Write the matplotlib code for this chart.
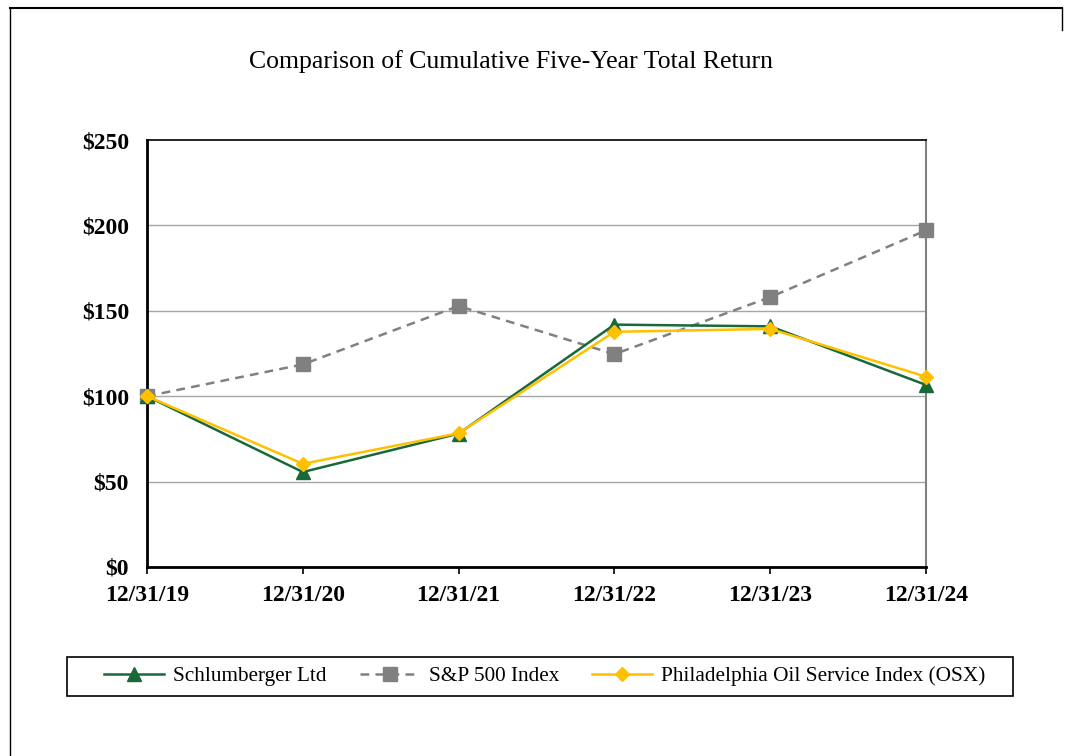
import matplotlib
matplotlib.use("Agg")
import matplotlib.pyplot as plt
from matplotlib.lines import Line2D
from matplotlib.patches import Rectangle

# data
dates = ['12/31/19', '12/31/20', '12/31/21', '12/31/22', '12/31/23', '12/31/24']
slb = [100, 55.6, 78.1, 141.9, 140.9, 106.6]
spx = [100, 118.6, 152.8, 124.6, 158.0, 197.1]
osx = [100, 60.4, 78.3, 137.7, 139.4, 111.4]
y_ticks = [0, 50, 100, 150, 200, 250]

plt.rcParams['font.family'] = ['Liberation Serif', 'DejaVu Serif']

W, H = 1074, 756
fig = plt.figure(figsize=(W / 100, H / 100), dpi=100)
ax = fig.add_axes([147/W, 1-567/H, (926-147)/W, (567-140)/H])

x = range(len(dates))
ax.plot(x, slb, color='#17693a', lw=1.8, marker='^', ms=10, label='Schlumberger Ltd', zorder=4, clip_on=False)
ax.plot(x, spx, color='#808080', lw=1.8, ls=(0, (3.5, 2.5)), marker='s', ms=10, label='S&P 500 Index', zorder=3, clip_on=False)
ax.plot(x, osx, color='#ffc000', lw=1.8, marker='D', ms=7.5, label='Philadelphia Oil Service Index (OSX)', zorder=5, clip_on=False)

ax.set_xlim(0, len(dates) - 1)
ax.set_ylim(0, 250)
ax.set_yticks(y_ticks)
ax.set_yticklabels(['$%d' % v for v in y_ticks], fontsize=17, fontweight='bold')
ax.set_xticks(list(x))
ax.set_xticklabels(dates, fontsize=17, fontweight='bold')
ax.tick_params(axis='y', length=0, pad=13)
ax.tick_params(axis='x', length=5, width=1.2, direction='out', pad=8)
for v in y_ticks[1:-1]:
    ax.axhline(v, color='#a6a6a6', lw=1, zorder=1)

ax.spines['left'].set_linewidth(2)
ax.spines['bottom'].set_linewidth(2)
ax.spines['top'].set_linewidth(1.2)
ax.spines['right'].set_color('#808080')
ax.spines['right'].set_linewidth(1.5)

fig.text(511/W, 1-62/H, 'Comparison of Cumulative Five-Year Total Return',
         ha='center', va='center', fontsize=18.5)

# legend box drawn separately so its size matches the exhibit
fig.add_artist(Rectangle((67/W, 1-696/H), (1013-67)/W, (696-657)/H, fill=False,
                         edgecolor='black', lw=1.2, transform=fig.transFigure))
fig.legend(loc='center', bbox_to_anchor=(545/W, 1-676.5/H), ncol=3,
           fontsize=15.3, frameon=False, handlelength=2.8, columnspacing=1.55,
           borderpad=0.3, handletextpad=0.45)

# outer frame of the exhibit
fig.add_artist(Line2D([10/W, 10/W], [0, 1-8/H], color='black', lw=1, transform=fig.transFigure))
fig.add_artist(Line2D([10/W, 1062/W], [1-8/H, 1-8/H], color='black', lw=1.5, transform=fig.transFigure))
fig.add_artist(Line2D([1062/W, 1062/W], [1-8/H, 1-30/H], color='black', lw=1, transform=fig.transFigure))

fig.savefig('out.png', dpi=100)
